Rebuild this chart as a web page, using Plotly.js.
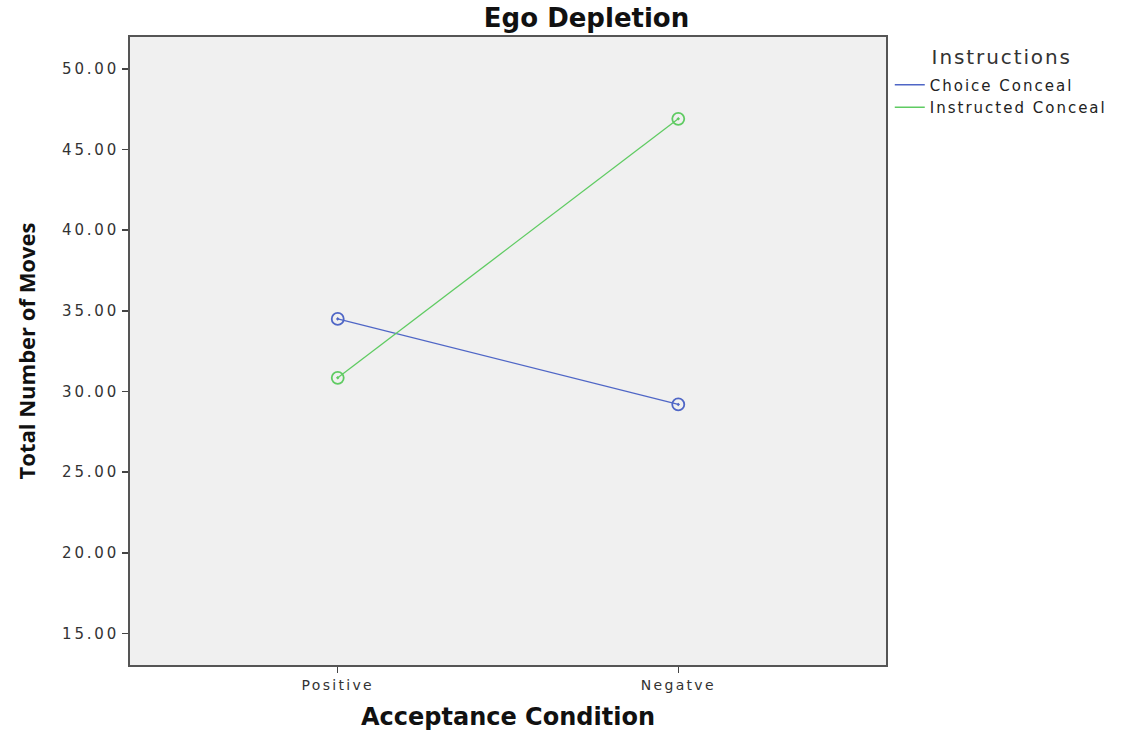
<!DOCTYPE html>
<html>
<head>
<meta charset="utf-8">
<script src="https://cdn.plot.ly/plotly-3.0.1.min.js"></script>
<style>
html,body{margin:0;padding:0;background:#fff;}
#chart{width:1128px;height:736px;}
#chart .xtick text{letter-spacing:2.3px;}
#chart .ytick text{letter-spacing:2.8px;}
text.legendtext{letter-spacing:2px;}
#chart .annotation-text{letter-spacing:1.9px;}
</style>
</head>
<body>
<div id="chart"></div>
<script>
const categories = ["Positive", "Negatve"];
const seriesNames = ["Choice Conceal", "Instructed Conceal"];
const choiceConceal = [34.5, 29.2];
const instructedConceal = [30.85, 46.9];
const yTickVals = [15, 20, 25, 30, 35, 40, 45, 50];
const yTickText = ["15.00", "20.00", "25.00", "30.00", "35.00", "40.00", "45.00", "50.00"];
const legendTitle = "Instructions";
const colors = ["#4f66c6", "#5fcb62"];

function trace(name, y, color) {
  return {
    type: "scatter", mode: "lines+markers", name: name,
    x: categories, y: y, showlegend: false, legendgroup: name,
    line: {color: color, width: 1.3},
    marker: {symbol: "circle-open-dot", size: 12, color: color, line: {color: color, width: 1.8}}
  };
}
function legendEntry(name, color) {
  return {
    type: "scatter", mode: "lines", name: name, legendgroup: name,
    x: [null], y: [null], showlegend: true,
    line: {color: color, width: 1.5}
  };
}

const data = [
  trace(seriesNames[0], choiceConceal, colors[0]),
  trace(seriesNames[1], instructedConceal, colors[1]),
  legendEntry(seriesNames[0], colors[0]),
  legendEntry(seriesNames[1], colors[1])
];

const layout = {
  width: 1128, height: 736,
  margin: {l: 130, r: 242, t: 37, b: 71},
  paper_bgcolor: "#ffffff",
  plot_bgcolor: "#f0f0f0",
  font: {family: "DejaVu Sans, sans-serif", color: "#333"},
  title: {text: "<b>Ego Depletion</b>", x: 0.52, xanchor: "center", y: 0.976, yanchor: "middle",
          font: {family: "DejaVu Sans, sans-serif", size: 26, color: "#111"}},
  xaxis: {
    type: "category", range: [-0.61, 1.61],
    showgrid: false, zeroline: false,
    showline: true, linecolor: "#555", linewidth: 2, mirror: true,
    ticks: "outside", ticklen: 6, tickwidth: 1.5, tickcolor: "#444",
    tickfont: {family: "DejaVu Sans, sans-serif", size: 14, color: "#333"},
    title: {text: "<b>Acceptance Condition</b>", standoff: 16,
            font: {family: "DejaVu Sans, sans-serif", size: 24, color: "#111"}}
  },
  yaxis: {
    range: [13.05, 51.97],
    tickvals: yTickVals, ticktext: yTickText,
    showgrid: false, zeroline: false,
    showline: true, linecolor: "#555", linewidth: 2, mirror: true,
    ticks: "outside", ticklen: 6, tickwidth: 1.5, tickcolor: "#444",
    tickfont: {family: "DejaVu Sans, sans-serif", size: 15, color: "#333"},
    title: {text: "<b>Total Number of Moves</b>", standoff: 34,
            font: {family: "Open Sans, sans-serif", size: 22, color: "#111"}}
  },
  legend: {
    x: 1.005, xanchor: "left", y: 0.95, yanchor: "top",
    bgcolor: "rgba(0,0,0,0)",
    tracegroupgap: 0, itemwidth: 30,
    font: {family: "DejaVu Sans, sans-serif", size: 15, color: "#222"}
  },
  annotations: [{
    text: legendTitle, xref: "paper", yref: "paper",
    x: 1.0725, xanchor: "left", y: 0.968, yanchor: "middle", showarrow: false,
    font: {family: "DejaVu Sans, sans-serif", size: 20, color: "#333"}
  }],
  showlegend: true
};

Plotly.newPlot("chart", data, layout, {displayModeBar: false, staticPlot: true});
</script>
</body>
</html>
